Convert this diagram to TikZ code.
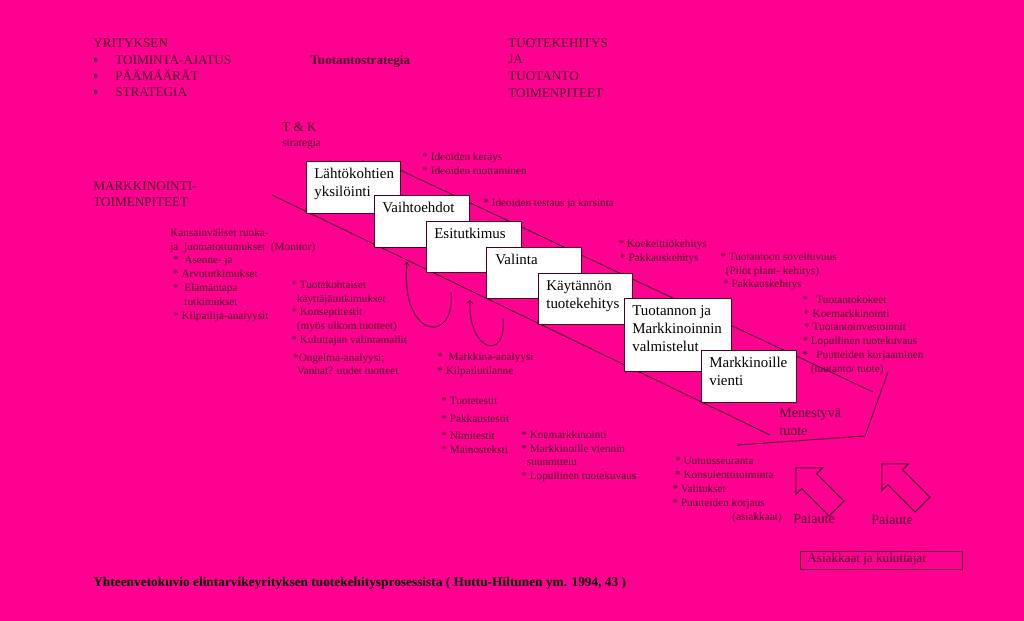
\documentclass[tikz,border=0pt]{standalone}
\usepackage{fontspec}
\setmainfont{Liberation Serif}
\usetikzlibrary{shapes.arrows}
\definecolor{pinkbg}{RGB}{255,0,144}
\definecolor{ink}{RGB}{70,0,40}
\begin{document}
\begin{tikzpicture}[x=0.02cm, y=-0.02cm,
   txt/.style={anchor=north west, inner sep=0pt, align=left, text=ink,
      font=\fontsize{6.4}{7.9}\selectfont},
   head/.style={txt, font=\fontsize{7.5}{9.6}\selectfont},
   stepbox/.style={draw=ink, fill=white, line width=0.5pt, anchor=north west, inner sep=0pt},
   boxtext/.style={anchor=north west, inner sep=0pt, align=left, text=black,
      font=\fontsize{8.5}{10.2}\selectfont},
   phase/.style={draw=ink, line width=0.5pt},
   loop/.style={->, draw=ink, line width=0.5pt},
   feedback/.style={single arrow, draw=ink, line width=0.6pt, minimum height=1.15cm,
      minimum width=0.75cm, single arrow head extend=0.1cm, shape border rotate=180, rotate=-45}]
\fill[pinkbg] (0,0) rectangle (1024,621);
\useasboundingbox (0,0) rectangle (1024,621);

% headings
\node[head] (yr) at (93,38) {YRITYKSEN};
\node[head] (yrl) at (93,55) {\makebox[0.44cm][l]{▪}TOIMINTA-AJATUS\\[-0.4pt]
  \makebox[0.44cm][l]{▪}PÄÄMÄÄRÄT\\[-0.4pt]
  \makebox[0.44cm][l]{▪}STRATEGIA};
\node[head, font=\fontsize{7.5}{9.6}\selectfont\bfseries] (ts) at (310,55) {Tuotantostrategia};
\node[head] (tt) at (508,38) {TUOTEKEHITYS\\JA\\TUOTANTO\\TOIMENPITEET};
\node[head] (tk) at (282,122) {T \& K\\[-1pt]{\fontsize{6.5}{8}\selectfont strategia}};
\node[head] (mk) at (93,181) {MARKKINOINTI-\\TOIMENPITEET};

% phase lines
\coordinate (u1) at (400,170);
\coordinate (u2) at (873,392);
\coordinate (l1) at (272,195);
\coordinate (l2) at (770,435);
\draw[phase] (u1) -- (u2);
\draw[phase] (l1) -- (l2);
\coordinate (m1) at (737,445);
\coordinate (m2) at (865,436);
\coordinate (m3) at (888,372);
\draw[phase] (m1) -- (m2) -- (m3);

% process steps
\node[stepbox, minimum width=1.88cm, minimum height=1.04cm] (b1) at (306,161) {};
\node[boxtext] at ([shift={(0.16cm,-0.14cm)}]b1.north west) {Lähtökohtien\\yksilöinti};
\node[stepbox, minimum width=1.9cm, minimum height=1.04cm] (b2) at (374,195) {};
\node[boxtext] at ([shift={(0.16cm,-0.14cm)}]b2.north west) {Vaihtoehdot};
\node[stepbox, minimum width=1.9cm, minimum height=1.02cm] (b3) at (426,221) {};
\node[boxtext] at ([shift={(0.16cm,-0.14cm)}]b3.north west) {Esitutkimus};
\node[stepbox, minimum width=1.9cm, minimum height=1.02cm] (b4) at (486,247) {};
\node[boxtext] at ([shift={(0.18cm,-0.14cm)}]b4.north west) {Valinta};
\node[stepbox, minimum width=1.88cm, minimum height=1.02cm] (b5) at (538,273) {};
\node[boxtext] at ([shift={(0.16cm,-0.14cm)}]b5.north west) {Käytännön\\tuotekehitys};
\node[stepbox, minimum width=2.14cm, minimum height=1.46cm] (b6) at (624,298) {};
\node[boxtext] at ([shift={(0.16cm,-0.14cm)}]b6.north west) {Tuotannon ja\\Markkinoinnin\\valmistelut};
\node[stepbox, minimum width=1.9cm, minimum height=1.04cm] (b7) at (701,350) {};
\node[boxtext] at ([shift={(0.16cm,-0.14cm)}]b7.north west) {Markkinoille\\vienti};

% loops
\coordinate (c1s) at (451,292);
\coordinate (c1e) at (407,262);
\coordinate (c2s) at (503,318);
\coordinate (c2e) at (470,300);
\draw[loop] (c1s) .. controls (456,345) and (400,340) .. (c1e);
\draw[loop] (c2s) .. controls (507,362) and (468,352) .. (c2e);

% activities
\node[txt] (kv) at (170,228) {Kansainväliset ruoka-\\ja \ juomatottumukset \ (Monitor)\\
  \ * \ Asenne- ja\\ \ * Arvotutkimukset\\ \ * \ Elämäntapa\\ \ \ \ \ \ tutkimukset\\ \ * Kilpailija-analyysit};
\node[txt] (id) at (422,152) {* Ideoiden keräys\\* Ideoiden tuottaminen};
\node[txt] (it) at (483,198) {* Ideoiden testaus ja karsinta};
\node[txt] (tkt) at (291,280) {* Tuotekohtaiset\\ \ \ käyttäjätutkimukset\\* Konseptitestit\\
  \ \ (myös ulkom.tuotteet)\\* Kuluttajan valintamallit\\[2pt] \,*Ongelma-analyysi;\\ \ \ Vanhat? uudet tuotteet};
\node[txt] (ma) at (437,352) {* \ Markkina-analyysi\\* Kilpailutilanne};
\node[txt] (tt2) at (441,397) {* Tuotetestit\\[2pt]* Pakkaustestit\\[2pt]* Nimitestit\\* Mainosteksti};
\node[txt] (km) at (521,430) {* Koemarkkinointi\\* Markkinoille viennin\\ \ \ suunnittelu\\* Lopullinen tuotekuvaus};
\node[txt] (kk) at (618,239) {* Koekeittiökehitys\\ \,* Pakkauskehitys};
\node[txt] (tsv) at (720,252) {* Tuotantoon soveltuvuus\\ \ \ (Pilot plant- kehitys)\\ \ * Pakkauskehitys};
\node[txt] (tko) at (802,295) {* \ \ Tuotantokokeet\\ \,* Koemarkkinointi\\ \,* Tuotantoinvestoinnit\\
  * Lopullinen tuotekuvaus\\* \ \ Puutteiden korjaaminen\\ \ \ \ (tuotanto/ tuote)};
\node[head, font=\fontsize{8}{10}\selectfont] (mt) at (779,408) {Menestyvä\\tuote};
\node[txt] (uu) at (672,457) {\ * Uutuusseuranta\\ \ * Konsulenttitoiminta\\* Valitukset\\
  * Puutteiden korjaus\\ \hspace{1.2cm}(asiakkaat)};

% feedback
\node[feedback] (p1) at (820,492) {};
\node[feedback] (p2) at (906,488) {};
\node[head, font=\fontsize{8}{10}\selectfont] (pl1) at (793,513) {Palaute};
\node[head, font=\fontsize{8}{10}\selectfont] (pl2) at (871,514) {Palaute};
\node[draw=ink, line width=0.5pt, anchor=north west, minimum width=3.24cm, minimum height=0.36cm,
   inner sep=0pt] (ak) at (800,551) {};
\node[txt, font=\fontsize{7.5}{8}\selectfont] at ([shift={(0.14cm,-0.05cm)}]ak.north west) {Asiakkaat ja kuluttajat};

% caption
\node[txt, font=\fontsize{7.6}{9}\selectfont\bfseries, text=black] (cap) at (93,577)
  {Yhteenvetokuvio elintarvikeyrityksen tuotekehitysprosessista ( Huttu-Hiltunen ym. 1994, 43 )};
\end{tikzpicture}
\end{document}
